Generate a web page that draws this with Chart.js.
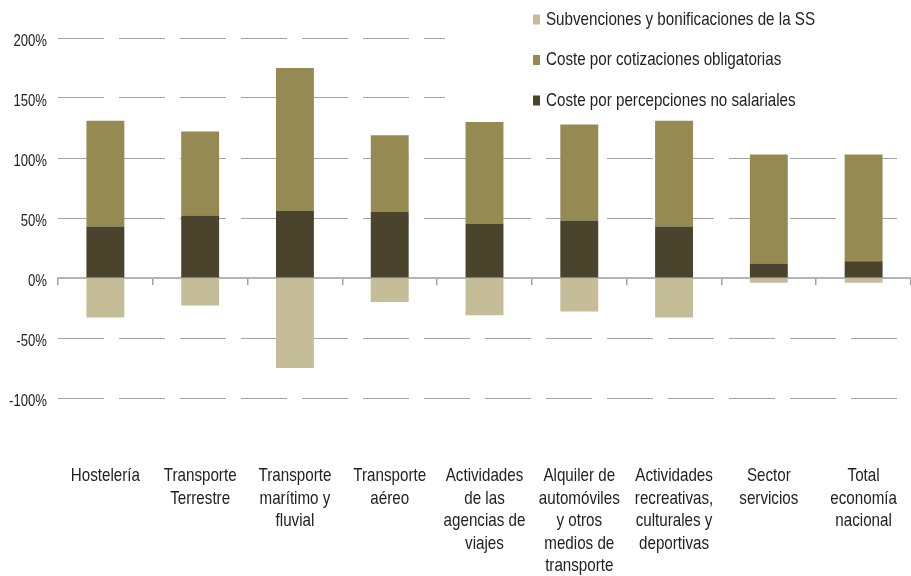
<!DOCTYPE html>
<html lang="es">
<head>
<meta charset="utf-8">
<title>Costes sociales por sector</title>
<script src="https://cdn.jsdelivr.net/npm/chart.js@4.4.1/dist/chart.umd.min.js"></script>
<style>
  html, body { margin: 0; padding: 0; background: #fff; }
  canvas { display: block; }
</style>
</head>
<body>
<canvas id="costChart" width="911" height="576"></canvas>
<script>
// datos (% sobre coste salarial)
const sectores = [
    ["Hostelería"],
    ["Transporte", "Terrestre"],
    ["Transporte", "marítimo y", "fluvial"],
    ["Transporte", "aéreo"],
    ["Actividades", "de las", "agencias de", "viajes"],
    ["Alquiler de", "automóviles", "y otros", "medios de", "transporte"],
    ["Actividades", "recreativas,", "culturales y", "deportivas"],
    ["Sector", "servicios"],
    ["Total", "economía", "nacional"],
];

const percepciones = [43, 52, 56, 55, 45, 48, 43, 12, 14];
const cotizaciones = [88, 70, 119, 64, 85, 80, 88, 91, 89];
const subvenciones = [-33, -23, -75, -20, -31, -28, -33, -4, -4];

const yTicks = [-100, -50, 0, 50, 100, 150, 200];

const colorLight = "#c5bd97", colorOlive = "#958a52", colorDark = "#4a442c";
const colorGrid = "#a3a3a3", colorText = "#222";
const fontFamily = "'Liberation Sans', Arial, sans-serif";

// no hay fuente estrecha instalada: se comprime el texto en horizontal
const narrowText = {
    id: "narrowText",
    beforeInit(chart) {
        const c = chart.ctx;
        const fill = c.fillText.bind(c);
        c.fillText = (text, x, y, maxWidth) => {
            c.save();
            c.translate(x, y);
            c.scale(0.82, 1);
            if (maxWidth === undefined) fill(text, 0, 0);
            else fill(text, 0, 0, maxWidth / 0.82);
            c.restore();
        };
    }
};

// leyenda dentro del area del grafico, tapando la rejilla
const legendOrder = [2, 1, 0];
const legendBox = {
    id: "legendBox",
    afterDraw(chart) {
        const ctx = chart.ctx;
        ctx.save();
        ctx.fillStyle = "#fff";
        ctx.fillRect(445, 0, 458, 112);
        ctx.font = "18.5px " + fontFamily;
        ctx.textBaseline = "middle";
        ctx.textAlign = "left";
        legendOrder.forEach((idx, i) => {
            const ds = chart.data.datasets[idx];
            const y = 19.5 + i * 40.5;
            ctx.fillStyle = ds.backgroundColor;
            ctx.fillRect(533, y - 5, 7, 10);
            ctx.fillStyle = colorText;
            ctx.fillText(ds.label, 546, y);
        });
        ctx.restore();
    }
};

const ctx = document.getElementById("costChart").getContext("2d");

new Chart(ctx, {
    type: "bar",
    data: {
        labels: sectores,
        datasets: [
            { label: "Coste por percepciones no salariales", data: percepciones, backgroundColor: colorDark, xAxisID: "x" },
            { label: "Coste por cotizaciones obligatorias", data: cotizaciones, backgroundColor: colorOlive, xAxisID: "x" },
            { label: "Subvenciones y bonificaciones de la SS", data: subvenciones, backgroundColor: colorLight, xAxisID: "x" },
        ],
    },
    options: {
        responsive: false,
        animation: false,
        devicePixelRatio: 1,
        layout: { padding: { top: 38, right: 0, bottom: 0, left: 0 } },
        datasets: {
            bar: { categoryPercentage: 1, barPercentage: 0.4, borderWidth: 0 },
        },
        plugins: {
            legend: { display: false },
            tooltip: { enabled: false },
        },
        scales: {
            x: {
                stacked: true,
                position: { y: 0 },
                offset: true,
                grid: {
                    offset: true,
                    drawOnChartArea: false,
                    drawTicks: true,
                    tickLength: 6,
                    color: colorGrid,
                    lineWidth: 1.5,
                },
                border: { display: true, color: "#b4b4b4", width: 2 },
                ticks: { display: false },
            },
            x2: {
                type: "category",
                labels: sectores,
                position: "bottom",
                offset: true,
                grid: { display: false, drawTicks: false },
                border: { display: false },
                ticks: {
                    autoSkip: false,
                    maxRotation: 0,
                    padding: 67,
                    color: colorText,
                    font: { family: fontFamily, size: 18.5, lineHeight: "22.5px" },
                },
                afterFit(scale) {
                    scale.height = 178;
                    scale.paddingLeft = 0;
                    scale.paddingRight = 0;
                },
            },
            y: {
                stacked: true,
                min: -100,
                max: 200,
                afterBuildTicks(scale) { scale.ticks = yTicks.map(v => ({ value: v })); },
                afterFit(scale) { scale.width = 58; },
                grid: { color: colorGrid, lineWidth: 1, drawTicks: false },
                border: { display: false, dash: [46, 15] },
                ticks: {
                    padding: 11,
                    labelOffset: 4,
                    color: colorText,
                    font: { family: fontFamily, size: 16 },
                    callback: v => v + "%",
                },
            },
        },
    },
    plugins: [narrowText, legendBox],
});
</script>
</body>
</html>
